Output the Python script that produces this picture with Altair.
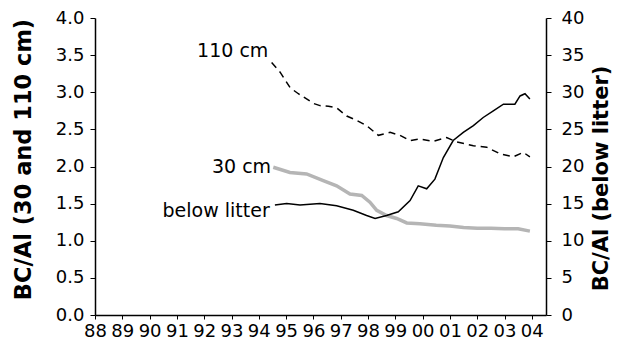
import altair as alt
import pandas as pd

# --- data ---
# 110 cm (left axis, dashed)
yr_110 = [1994.47, 1994.78, 1995.15, 1995.45, 1995.75, 1996.00, 1996.24, 1996.55, 1996.85,
          1997.22, 1997.59, 1997.95, 1998.38, 1998.81, 1999.17, 1999.54, 1999.90, 2000.39,
          2000.88, 2001.25, 2001.86, 2002.35, 2002.84, 2003.32, 2003.69, 2003.93]
val_110 = [3.40, 3.27, 3.06, 2.98, 2.91, 2.85, 2.82, 2.81, 2.79,
           2.68, 2.62, 2.55, 2.42, 2.46, 2.42, 2.35, 2.37, 2.34,
           2.39, 2.33, 2.28, 2.26, 2.17, 2.13, 2.19, 2.13]

# 30 cm (left axis, grey)
yr_30 = [1994.53, 1995.14, 1995.75, 1996.36, 1996.85, 1997.34, 1997.77, 1998.07, 1998.32,
         1998.68, 1999.05, 1999.42, 1999.90, 2000.50, 2001.00, 2001.50, 2002.00, 2002.50,
         2003.00, 2003.50, 2003.93]
val_30 = [1.99, 1.92, 1.90, 1.81, 1.74, 1.63, 1.61, 1.52, 1.41,
          1.34, 1.30, 1.24, 1.23, 1.21, 1.20, 1.18, 1.17, 1.17,
          1.16, 1.16, 1.13]

# below litter (right axis, black)
yr_bl = [1994.59, 1995.02, 1995.51, 1996.24, 1996.85, 1997.46, 1997.95, 1998.26, 1998.68,
         1999.11, 1999.54, 1999.84, 2000.15, 2000.45, 2000.76, 2001.12, 2001.49, 2001.86,
         2002.22, 2002.59, 2002.96, 2003.38, 2003.57, 2003.75, 2003.93]
val_bl = [14.8, 15.0, 14.8, 15.0, 14.7, 14.1, 13.4, 13.0, 13.4,
          13.9, 15.4, 17.4, 17.0, 18.3, 21.2, 23.5, 24.6, 25.5,
          26.6, 27.5, 28.4, 28.4, 29.5, 29.8, 29.1]

# series labels (placed in left-axis units)
lab_text = ["110 cm", "30 cm", "below litter"]
lab_year = [1994.35, 1994.45, 1994.40]
lab_val = [3.56, 2.00, 1.40]

x_ticks = list(range(1988, 2005))
left_ticks = [0, 0.5, 1.0, 1.5, 2.0, 2.5, 3.0, 3.5, 4.0]
right_ticks = [0, 5, 10, 15, 20, 25, 30, 35, 40]

FONT = "DejaVu Sans"
LABEL_SIZE = 18

df110 = pd.DataFrame({"year": yr_110, "val": val_110})
df30 = pd.DataFrame({"year": yr_30, "val": val_30})
dfbl = pd.DataFrame({"year": yr_bl, "val": val_bl})
dflab = pd.DataFrame({"label": lab_text, "year": lab_year, "val": lab_val})

x_enc = alt.X(
    "year:Q",
    scale=alt.Scale(domain=[1988, 2004.52], nice=False, zero=False),
    axis=alt.Axis(
        values=x_ticks,
        labelExpr="substring(toString(datum.value), 2, 4)",
        title=None, grid=False, tickSize=4, labelFontSize=LABEL_SIZE, labelFont=FONT,
        labelColor="black", domainColor="black", tickColor="black",
        labelPadding=3, labelOverlap=False, labelFlush=False, domainWidth=1.5,
    ),
)

y_left = alt.Y(
    "val:Q",
    scale=alt.Scale(domain=[0, 4], nice=False),
    axis=alt.Axis(
        values=left_ticks, format=".1f", title="BC/Al (30 and 110 cm)",
        grid=False, tickSize=5, labelFontSize=LABEL_SIZE, labelFont=FONT, labelColor="black",
        domainColor="black", tickColor="black", domainWidth=1.5, labelPadding=6,
        titleFont=FONT, titleFontSize=22.5, titleFontWeight="bold", titleColor="black",
        titleAngle=270, titleAlign="center", titleBaseline="middle",
        titleX=-72, titleY=141,
    ),
)

y_right = alt.Y(
    "val:Q",
    scale=alt.Scale(domain=[0, 40], nice=False),
    axis=alt.Axis(
        orient="right", values=right_ticks, format="d", title="BC/Al (below litter)",
        grid=False, tickSize=5, labelFontSize=LABEL_SIZE, labelFont=FONT, labelColor="black",
        domainColor="black", tickColor="black", domainWidth=1.5, labelPadding=10,
        titleFont=FONT, titleFontSize=21, titleFontWeight="bold", titleColor="black",
        titleAngle=270, titleAlign="center", titleBaseline="middle",
        titleX=55, titleY=160,
    ),
)

line110 = alt.Chart(df110).mark_line(color="black", strokeWidth=1.5, strokeDash=[7, 5]).encode(
    x=x_enc, y=y_left)
line30 = alt.Chart(df30).mark_line(color="#b5b5b5", strokeWidth=3.5).encode(
    x=x_enc, y=y_left)
labels = alt.Chart(dflab).mark_text(
    align="right", baseline="middle", fontSize=19, font=FONT, color="black"
).encode(x=x_enc, y=y_left, text="label:N")

left_layer = alt.layer(line30, line110, labels)

linebl = alt.Chart(dfbl).mark_line(color="black", strokeWidth=1.5).encode(
    x=x_enc, y=y_right)

chart = alt.layer(left_layer, linebl).resolve_scale(y="independent").properties(
    width=451, height=297,
    autosize=alt.AutoSizeParams(type="none"),
    padding={"left": 87, "top": 10, "right": 67, "bottom": 27},
    background="white",
).configure_view(stroke=None)

chart.save("out.html", embed_options={"renderer": "svg", "actions": False})
